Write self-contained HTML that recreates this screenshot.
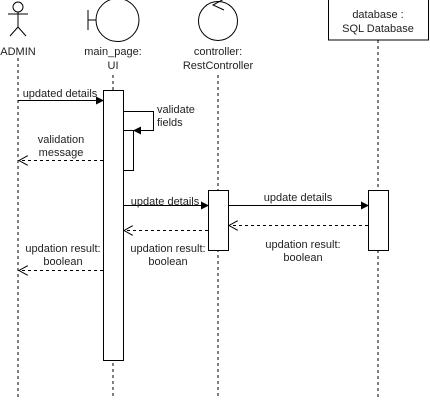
<!DOCTYPE html>
<html><head><style>body{margin:0;background:#fff}svg{display:block}text{font-family:"Liberation Sans",sans-serif;font-size:11px;fill:#222}</style></head><body>
<svg width="430" height="401" xmlns="http://www.w3.org/2000/svg">
<defs>
<marker id="f" markerWidth="8" markerHeight="8" refX="7" refY="4" orient="auto" markerUnits="userSpaceOnUse"><path d="M0,0 L8,4 L0,8 z" fill="#000"/></marker>
<marker id="o" markerWidth="10" markerHeight="10" refX="9" refY="5" orient="auto" markerUnits="userSpaceOnUse"><path d="M0,0 L9,5 L0,10" fill="none" stroke="#000"/></marker>
</defs>
<g stroke="#000" fill="none">
<!-- lifelines -->
<g stroke-dasharray="3,3">
<line x1="18" y1="58" x2="18" y2="398"/>
<line x1="113" y1="75" x2="113" y2="398"/>
<line x1="218" y1="75" x2="218" y2="398"/>
<line x1="378" y1="40" x2="378" y2="398"/>
</g>
<!-- actor -->
<circle cx="18" cy="7" r="5" fill="#fff"/>
<line x1="18" y1="12" x2="18" y2="27"/>
<line x1="8" y1="14" x2="28" y2="14"/>
<line x1="18" y1="27" x2="10" y2="36"/>
<line x1="18" y1="27" x2="26" y2="36"/>
<!-- boundary -->
<line x1="88" y1="10" x2="88" y2="30"/>
<line x1="88" y1="20" x2="96" y2="20"/>
<circle cx="117.5" cy="20" r="21.5" fill="#fff"/>
<!-- control -->
<circle cx="218" cy="21" r="19.5" fill="#fff"/>
<path d="M224,-1 L213,5 L224,10"/>
<!-- db box -->
<rect x="328.5" y="-1" width="100" height="41" fill="#fff"/>
<!-- activations -->
<rect x="103.5" y="90.5" width="20" height="270" fill="#fff"/>
<rect x="123.5" y="130.5" width="10" height="40" fill="#fff"/>
<rect x="208.5" y="190.5" width="20" height="60" fill="#fff"/>
<rect x="368.5" y="190.5" width="20" height="60" fill="#fff"/>
<!-- messages -->
<line x1="18" y1="100.5" x2="103" y2="100.5" marker-end="url(#f)"/>
<path d="M124,111.5 H153.5 V130.5 H134" marker-end="url(#f)"/>
<line x1="103" y1="160.5" x2="19" y2="160.5" stroke-dasharray="3,3" marker-end="url(#o)"/>
<line x1="124" y1="205.5" x2="208" y2="205.5" marker-end="url(#f)"/>
<line x1="229" y1="205.5" x2="368" y2="205.5" marker-end="url(#f)"/>
<line x1="368" y1="225.5" x2="229" y2="225.5" stroke-dasharray="3,3" marker-end="url(#o)"/>
<line x1="208" y1="230.5" x2="124" y2="230.5" stroke-dasharray="3,3" marker-end="url(#o)"/>
<line x1="103" y1="270.5" x2="19" y2="270.5" stroke-dasharray="3,3" marker-end="url(#o)"/>
</g>
<g text-anchor="middle">
<text x="18" y="55" font-size="12">ADMIN</text>
<text x="113" y="55" font-size="12">main_page:</text>
<text x="113" y="69" font-size="12">UI</text>
<text x="218" y="55" font-size="12">controller:</text>
<text x="218" y="69" font-size="12">RestController</text>
<text x="378" y="18" font-size="12">database :</text>
<text x="378" y="32" font-size="12">SQL Database</text>
<text x="60" y="97">updated details</text>
<text x="61" y="143">validation</text>
<text x="61" y="156">message</text>
<text x="165" y="205">update details</text>
<text x="298" y="201">update details</text>
<text x="63" y="252">updation result:</text>
<text x="63" y="265">boolean</text>
<text x="168" y="252">updation result:</text>
<text x="168" y="265">boolean</text>
<text x="303" y="248">updation result:</text>
<text x="303" y="261">boolean</text>
</g>
<text x="157" y="113">validate</text>
<text x="157" y="126">fields</text>
</svg>
</body></html>
